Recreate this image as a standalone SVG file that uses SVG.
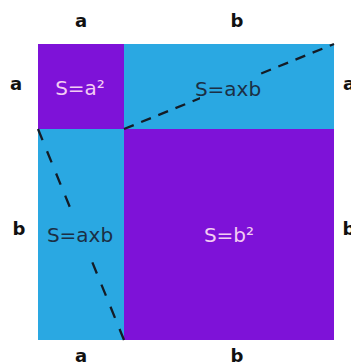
<svg xmlns="http://www.w3.org/2000/svg" width="351" height="362" viewBox="0 0 351 362">
<style>
.lbl{font-family:"DejaVu Sans",sans-serif;font-weight:bold;font-size:18px;fill:#111;text-anchor:middle}
.area{font-family:"DejaVu Sans",sans-serif;font-size:20px;text-anchor:middle}
.light{fill:#f3cdf3}
.dark{fill:#1b2f45}
.purple{fill:#7e12d8}
.blue{fill:#2aa8e2}
.dash{stroke:#141c26;stroke-width:2.3;fill:none}
.d1{stroke-dasharray:10.5 8}
.d2{stroke-dasharray:12 12}
</style>
<defs>
<mask id="textgap" maskUnits="userSpaceOnUse" x="0" y="0" width="351" height="362">
<rect width="351" height="362" fill="#fff"/>
<rect x="200" y="68" width="60" height="32" fill="#000"/>
<rect x="66" y="211" width="28" height="43" fill="#000"/>
</mask>
</defs>
<rect width="351" height="362" fill="#ffffff"/>
<g id="sq-a2"><rect class="purple" x="38" y="44" width="86" height="85"/><text class="area light" x="80" y="95">S=a²</text></g>
<g id="rect-top"><rect class="blue" x="124" y="44" width="210" height="85"/><text class="area dark" x="228" y="96">S=axb</text></g>
<g id="rect-left"><rect class="blue" x="38" y="129" width="86" height="211"/><text class="area dark" x="80" y="242">S=axb</text></g>
<g id="sq-b2"><rect class="purple" x="124" y="129" width="210" height="211"/><text class="area light" x="229" y="242">S=b²</text></g>
<g id="connectors" mask="url(#textgap)">
<line class="dash d1" x1="124" y1="129" x2="334" y2="44"/>
<line class="dash d2" x1="38" y1="129" x2="124" y2="340"/>
</g>
<g id="labels">
<text class="lbl" x="81" y="27">a</text>
<text class="lbl" x="237" y="27">b</text>
<text class="lbl" x="16" y="90">a</text>
<text class="lbl" x="19" y="235">b</text>
<text class="lbl" x="349" y="90">a</text>
<text class="lbl" x="349" y="235">b</text>
<text class="lbl" x="81" y="362">a</text>
<text class="lbl" x="237" y="362">b</text>
</g>
</svg>
